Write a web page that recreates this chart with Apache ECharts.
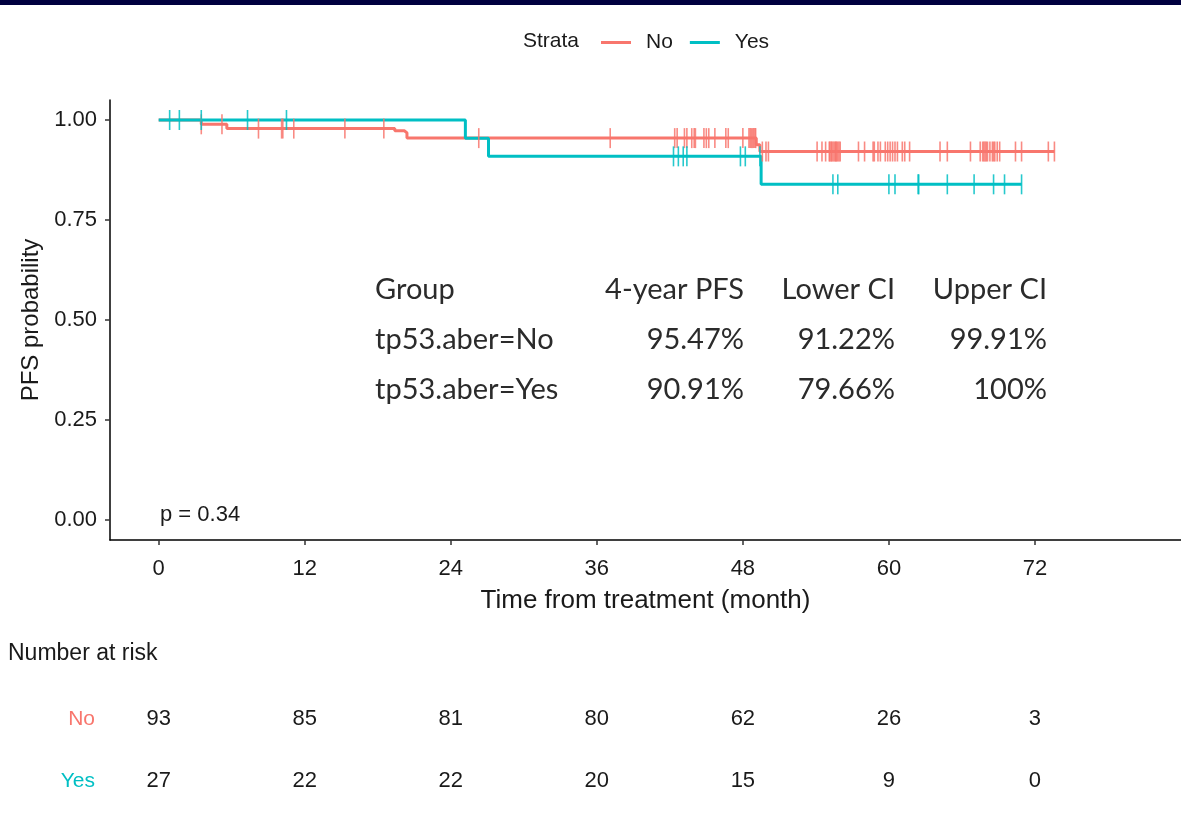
<!DOCTYPE html>
<html>
<head>
<meta charset="utf-8">
<script src="https://cdn.jsdelivr.net/npm/echarts@6/dist/echarts.min.js"></script>
<style>
  html, body { margin: 0; padding: 0; background: #fff; }
  #chart { width: 1181px; height: 827px; }
</style>
</head>
<body>
<div id="chart"></div>
<script>
// Kaplan–Meier step curves: event times (months) and survival after each event
const noTimes = [0, 3.5, 5.6, 19.4, 20.2, 20.4, 49.1, 49.4, 73.6];
const noSurv  = [1, 0.9892, 0.9785, 0.973, 0.968, 0.9547, 0.938, 0.9212, 0.9212];
const yesTimes = [0, 25.2, 27.1, 49.5, 70.9];
const yesSurv  = [1, 0.9545, 0.9091, 0.8392, 0.8392];

// Censoring times (months)
const noCensor = [3.5, 5.2, 8.2, 10.1, 10.2, 11.1, 15.3, 18.5, 26.3, 37.1,
  42.4, 42.6, 43.2, 43.4, 43.8, 44.0, 44.1, 44.8, 45.0, 45.2, 45.7, 46.6, 46.8,
  48.0, 48.5, 48.6, 48.7, 48.8, 48.9, 49.0, 49.05, 49.6, 49.9, 50.1,
  54.1, 54.5, 54.8, 55.1, 55.15, 55.25, 55.3, 55.4, 55.5, 55.6, 55.65, 55.7, 55.8, 55.9, 56.0,
  57.5, 58.0, 58.7, 58.8, 59.1, 59.3, 59.7, 59.9, 60.1, 60.3, 60.5, 60.7, 61.1, 61.3, 61.7,
  64.2, 64.8, 66.7, 67.5, 67.7, 67.8, 67.9, 68.0, 68.1, 68.3, 68.5, 68.6, 68.7, 68.9, 69.1,
  70.4, 70.9, 73.1, 73.6];
const yesCensor = [0.9, 1.7, 3.5, 7.3, 10.5, 42.3, 42.7, 43.1, 43.4, 47.8, 48.2, 49.4,
  55.4, 55.8, 60.0, 60.5, 62.4, 62.45, 64.8, 67.0, 68.6, 69.5, 70.9];

// Axis ticks and number-at-risk table
const xTicks = [0, 12, 24, 36, 48, 60, 72];
const yTicks = [0, 0.25, 0.5, 0.75, 1];
const riskNo  = [93, 85, 81, 80, 62, 26, 3];
const riskYes = [27, 22, 22, 20, 15, 9, 0];

// Landmark summary table
const tableHeader = ['Group', '4-year PFS', 'Lower CI', 'Upper CI'];
const tableRows = [
  ['tp53.aber=No', '95.47%', '91.22%', '99.91%'],
  ['tp53.aber=Yes', '90.91%', '79.66%', '100%']
];
const pText = 'p = 0.34';

const RED = '#F8766D', CYAN = '#00BFC4', INK = '#1a1a1a';
const FONT = '"Liberation Sans", Arial, sans-serif';

function stepAt(times, surv, t) {
  let v = surv[0];
  for (let i = 0; i < times.length; i++) { if (times[i] <= t) v = surv[i]; }
  return v;
}
const pairs = (a, b) => a.map((t, i) => [t, b[i]]);

const chart = echarts.init(document.getElementById('chart'), null, { renderer: 'canvas' });

const tableGraphics = [];
const colRight = [null, 744, 895, 1047];
const rowY = [289, 339, 389];
[tableHeader].concat(tableRows).forEach((row, r) => {
  row.forEach((txt, c) => {
    tableGraphics.push({
      type: 'text',
      left: c === 0 ? 375 : null,
      right: c === 0 ? null : 1181 - colRight[c],
      top: rowY[r] - 14,
      style: { text: txt, font: '29px Lato, "Open Sans", sans-serif', fill: '#2b2b2b' }
    });
  });
});

const riskLabel = {
  show: true, position: 'inside', formatter: p => String(p.data[2]),
  fontSize: 22, color: INK, fontFamily: FONT
};

const option = {
  animation: false,
  backgroundColor: '#ffffff',
  textStyle: { fontFamily: FONT },
  legend: {
    data: [{ name: 'No', icon: 'rect' }, { name: 'Yes', icon: 'rect' }],
    left: 596, top: 27,
    itemWidth: 30, itemHeight: 3, itemGap: 17,
    textStyle: { fontSize: 21, color: INK, fontFamily: FONT, padding: [0, 0, 0, 10] }
  },
  graphic: [
    { type: 'rect', left: 0, top: 0, shape: { width: 1181, height: 5 }, style: { fill: '#00003f' } },
    { type: 'text', left: 523, top: 31, style: { text: 'Strata', font: '21px ' + FONT, fill: INK } },
    { type: 'text', left: 160, top: 504, style: { text: pText, font: '22px ' + FONT, fill: INK } },
    { type: 'text', left: 8, top: 642, style: { text: 'Number at risk', font: '23px ' + FONT, fill: INK } }
  ].concat(tableGraphics),
  grid: [
    { left: 110, right: 0, top: 100, height: 440, containLabel: false },
    { left: 110, right: 0, top: 688, height: 124, containLabel: false }
  ],
  xAxis: [
    {
      gridIndex: 0, type: 'value', min: -4, max: 84,
      name: 'Time from treatment (month)', nameLocation: 'middle', nameGap: 48,
      nameTextStyle: { fontSize: 26, color: INK, fontFamily: FONT },
      axisLine: { onZero: false, lineStyle: { color: '#000', width: 1.5 } },
      axisTick: { show: true, length: 5, customValues: xTicks, lineStyle: { color: '#333', width: 1.5 } },
      axisLabel: { customValues: xTicks, fontSize: 22, color: INK, margin: 18, fontFamily: FONT },
      splitLine: { show: false }
    },
    {
      gridIndex: 1, type: 'value', min: -4, max: 84,
      axisLine: { show: false }, axisTick: { show: false }, axisLabel: { show: false },
      splitLine: { show: false }
    }
  ],
  yAxis: [
    {
      gridIndex: 0, type: 'value', min: -0.05, max: 1.05,
      name: 'PFS probability', nameLocation: 'middle', nameGap: 62,
      nameTextStyle: { fontSize: 24, color: INK, fontFamily: FONT },
      axisLine: { show: true, onZero: false, lineStyle: { color: '#000', width: 1.5 } },
      axisTick: { show: true, length: 5, customValues: yTicks, lineStyle: { color: '#333', width: 1.5 } },
      axisLabel: {
        customValues: yTicks, fontSize: 22, color: INK, margin: 13, fontFamily: FONT,
        formatter: v => v.toFixed(2)
      },
      splitLine: { show: false }
    },
    {
      gridIndex: 1, type: 'category', data: ['Yes', 'No'],
      axisLine: { show: false }, axisTick: { show: false },
      axisLabel: {
        margin: 15, fontSize: 21, fontFamily: FONT,
        formatter: v => '{' + v + '|' + v + '}',
        rich: { No: { color: RED, fontSize: 21, fontFamily: FONT }, Yes: { color: CYAN, fontSize: 21, fontFamily: FONT } }
      },
      splitLine: { show: false }
    }
  ],
  series: [
    {
      name: 'No', type: 'line', step: 'end', xAxisIndex: 0, yAxisIndex: 0,
      data: pairs(noTimes, noSurv), showSymbol: false, symbol: 'none',
      lineStyle: { color: RED, width: 3 }, itemStyle: { color: RED }, z: 2
    },
    {
      name: 'Yes', type: 'line', step: 'end', xAxisIndex: 0, yAxisIndex: 0,
      data: pairs(yesTimes, yesSurv), showSymbol: false, symbol: 'none',
      lineStyle: { color: CYAN, width: 3 }, itemStyle: { color: CYAN }, z: 3
    },
    {
      name: 'No censored', type: 'scatter', xAxisIndex: 0, yAxisIndex: 0,
      data: noCensor.map(t => [t, stepAt(noTimes, noSurv, t)]),
      symbol: 'rect', symbolSize: [1.6, 20],
      itemStyle: { color: RED, opacity: 0.85 }, z: 4, silent: true
    },
    {
      name: 'Yes censored', type: 'scatter', xAxisIndex: 0, yAxisIndex: 0,
      data: yesCensor.map(t => [t, stepAt(yesTimes, yesSurv, t)]),
      symbol: 'rect', symbolSize: [1.6, 20],
      itemStyle: { color: CYAN, opacity: 0.85 }, z: 5, silent: true
    },
    {
      name: 'risk No', type: 'scatter', xAxisIndex: 1, yAxisIndex: 1,
      data: xTicks.map((t, i) => [t, 'No', riskNo[i]]),
      symbolSize: 0, itemStyle: { opacity: 1 }, label: riskLabel
    },
    {
      name: 'risk Yes', type: 'scatter', xAxisIndex: 1, yAxisIndex: 1,
      data: xTicks.map((t, i) => [t, 'Yes', riskYes[i]]),
      symbolSize: 0, itemStyle: { opacity: 1 }, label: riskLabel
    }
  ]
};
chart.setOption(option);
</script>
</body>
</html>
